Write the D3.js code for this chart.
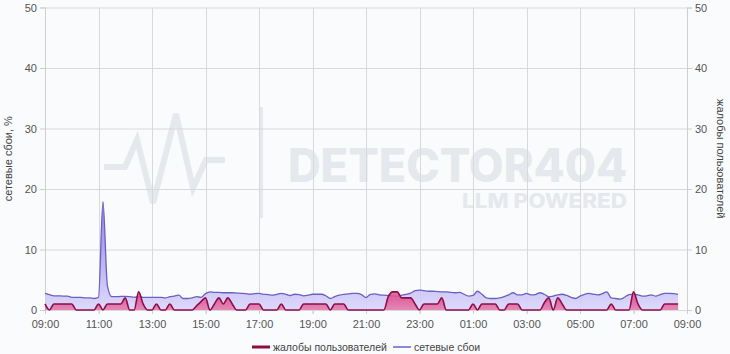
<!DOCTYPE html>
<html>
<head>
<meta charset="utf-8">
<script src="https://cdn.jsdelivr.net/npm/d3@7"></script>
<style>
  body { margin: 0; background: #fafbfc; }
  text { font-family: "Liberation Sans", Arial, sans-serif; }
</style>
</head>
<body>
<svg id="chart"></svg>
<script>
// 10-minute samples starting 09:00
const complaints = [
  1, 0, 1, 1, 1, 1, 1, 0, 0, 0, 0, 0, 1, 0, 1, 1, 1, 1, 2, 0,
  0, 3, 1, 0, 0, 1, 0, 0, 1, 0, 0, 0, 0, 0, 0.7, 1.4, 2, 0, 1, 2,
  1, 2, 1, 0, 0, 0, 1, 1, 1, 0, 0, 0, 0, 1, 0, 0, 0, 0, 1, 1,
  1, 1, 1, 1, 0, 1, 1, 1, 0, 0, 0, 0, 0, 0, 0, 0, 0, 2.2, 3, 3,
  2, 2, 2, 1, 0, 1, 1, 1, 1, 2, 0, 0, 0, 0, 0, 0, 1, 0, 1, 1,
  1, 1, 0, 0, 1, 1, 1, 0, 0, 0, 0, 0, 1.2, 2, 0, 2, 1, 0, 0, 0,
  0, 0, 0, 0, 0, 0, 0, 1, 0, 0, 0, 0, 3, 1, 0, 0, 0, 0, 0, 1,
  1, 1, 1
];
const networkFailures = [
  2.75, 2.55, 2.35, 2.35, 2.3, 2.3, 2.1, 2.1, 2.1, 2.0, 2.0, 1.9, 2.1, 17.9, 4, 2.2, 2.2, 2.25, 2.25, 2.2,
  2.1, 2.2, 2.1, 2.1, 2.1, 2.1, 2.1, 2.0, 2.2, 2.3, 2.45, 1.9, 1.9, 2.0, 2.2, 2.1, 2.7, 3.0, 2.9, 2.9,
  2.85, 2.85, 2.85, 2.8, 2.75, 2.7, 2.6, 2.7, 2.75, 2.6, 2.55, 2.45, 2.6, 2.75, 2.6, 2.4, 2.6, 2.55, 2.35, 2.45,
  2.6, 2.6, 2.6, 2.35, 1.9, 2.2, 2.45, 2.6, 2.65, 2.75, 2.75, 2.55, 2.05, 2.6, 2.65, 2.5, 2.45, 2.4, 2.35, 2.3,
  2.45, 2.6, 2.8, 3.2, 3.3, 3.2, 3.1, 3.1, 3.05, 3.0, 3.0, 2.9, 2.85, 2.9, 2.6, 2.3, 2.4, 3.1, 2.6, 2.0,
  1.9, 1.9, 2.0, 2.2, 2.5, 2.85, 2.5, 2.5, 2.75, 2.5, 2.55, 2.85, 2.6, 2.2, 2.3, 2.5, 2.6, 2.4, 2.1, 1.9,
  2.3, 2.6, 2.75, 2.6, 2.5, 2.7, 3.0, 2.0, 1.9, 1.8, 2.1, 2.55, 2.6, 2.5, 2.3, 2.35, 2.5, 2.3, 2.55, 2.75,
  2.75, 2.7, 2.6
];
const yTicks = [0, 10, 20, 30, 40, 50];
const xTickHours = [0, 2, 4, 6, 8, 10, 12, 14, 16, 18, 20, 22, 24];
const seriesNames = ["жалобы пользователей", "сетевые сбои"];
const leftTitle = "сетевые сбои, %";
const rightTitle = "жалобы пользователей";

const start = new Date(2024, 0, 1, 9, 0);
const times = complaints.map((d, i) => d3.timeMinute.offset(start, i * 10));
const xTicks = xTickHours.map((h) => d3.timeHour.offset(start, h));

let svg = d3.select("#chart"),
  W = 730, H = 354,
  margin = { top: 7.5, right: 43, bottom: 44, left: 45 },
  width = W - margin.left - margin.right,
  height = H - margin.top - margin.bottom;

svg.attr("width", W).attr("height", H);

let xScale = d3.scaleTime().domain([start, d3.timeHour.offset(start, 24)]).range([0, width]),
  yScale = d3.scaleLinear().domain([0, 50]).range([height, 0]);

let defs = svg.append("defs");
let gNet = defs.append("linearGradient").attr("id", "gNet")
  .attr("gradientUnits", "userSpaceOnUse").attr("x1", 0).attr("x2", 0)
  .attr("y1", margin.top + yScale(18)).attr("y2", margin.top + yScale(0));
gNet.append("stop").attr("offset", 0).attr("stop-color", "#8c7ce6");
gNet.append("stop").attr("offset", 1).attr("stop-color", "#e0dcfc");
let gCom = defs.append("linearGradient").attr("id", "gCom")
  .attr("gradientUnits", "userSpaceOnUse").attr("x1", 0).attr("x2", 0)
  .attr("y1", margin.top + yScale(3)).attr("y2", margin.top + yScale(0));
gCom.append("stop").attr("offset", 0).attr("stop-color", "#de5591").attr("stop-opacity", 0.85);
gCom.append("stop").attr("offset", 1).attr("stop-color", "#ec8fb8").attr("stop-opacity", 0.8);

// watermark
let wm = svg.append("g").attr("fill", "#e5e8ec").attr("stroke", "#e5e8ec");
wm.append("path")
  .attr("d", "M104,167 L125,167 L137,140 L153,203 L176,114 L193,188 L206,160 L225,160")
  .attr("fill", "none").attr("stroke-width", 6).attr("stroke-linejoin", "miter");
wm.append("rect").attr("x", 259).attr("y", 107).attr("width", 4).attr("height", 111).attr("stroke", "none");
wm.append("text").attr("x", 288).attr("y", 182).attr("stroke", "none")
  .style("font-family", "Inter, sans-serif").style("font-weight", 800).style("font-size", "46px")
  .attr("textLength", 339).attr("lengthAdjust", "spacingAndGlyphs").text("DETECTOR404");
wm.append("text").attr("x", 462).attr("y", 208).attr("stroke", "none")
  .style("font-family", "Inter, sans-serif").style("font-weight", 800).style("font-size", "20px")
  .attr("textLength", 165).attr("lengthAdjust", "spacingAndGlyphs").text("LLM POWERED");

let g = svg.append("g").attr("transform", "translate(" + margin.left + "," + margin.top + ")");

// grid
g.append("g").selectAll("line").data(yTicks).enter().append("line")
  .attr("x1", 0).attr("x2", width)
  .attr("y1", (d) => yScale(d) + 0.5).attr("y2", (d) => yScale(d) + 0.5)
  .attr("stroke", "#d9d9d9");
g.append("g").selectAll("line").data(xTicks).enter().append("line")
  .attr("x1", (d) => Math.round(xScale(d)) + 0.5).attr("x2", (d) => Math.round(xScale(d)) + 0.5)
  .attr("y1", 0).attr("y2", height + 4)
  .attr("stroke", "#d9d9d9");

// axes
let axisStyle = (sel) => {
  sel.select(".domain").attr("stroke", "#cfcfcf");
  sel.selectAll(".tick line").attr("stroke", "#cfcfcf");
  sel.selectAll(".tick text").attr("fill", "#555").style("font-size", "11px");
};
g.append("g")
  .attr("transform", "translate(0," + height + ")")
  .call(d3.axisBottom(xScale).tickValues(xTicks).tickFormat(d3.timeFormat("%H:%M")).tickSize(4).tickPadding(6))
  .call((s) => s.select(".domain").remove())
  .call(axisStyle);
g.append("g")
  .call(d3.axisLeft(yScale).tickValues(yTicks).tickSize(5).tickPadding(3))
  .call(axisStyle);
g.append("g")
  .attr("transform", "translate(" + width + ",0)")
  .call(d3.axisRight(yScale).tickValues(yTicks).tickSize(5).tickPadding(3))
  .call(axisStyle);

g.append("text")
  .attr("transform", "translate(" + (-33) + "," + height / 2 + ") rotate(-90)")
  .attr("text-anchor", "middle").attr("fill", "#444").style("font-size", "11px")
  .text(leftTitle);
g.append("text")
  .attr("transform", "translate(" + (width + 30) + "," + height / 2 + ") rotate(90)")
  .attr("text-anchor", "middle").attr("fill", "#444").style("font-size", "11px")
  .text(rightTitle);

// series
let curve = d3.curveMonotoneX;
let area = (vals) => d3.area().curve(curve)
  .x((d, i) => xScale(times[i])).y0(height).y1((d) => yScale(d))(vals);
let line = (vals) => d3.line().curve(curve)
  .x((d, i) => xScale(times[i])).y((d) => yScale(d))(vals);

g.append("path").attr("d", area(networkFailures)).attr("fill", "url(#gNet)").attr("fill-opacity", 0.9);
g.append("path").attr("d", line(networkFailures)).attr("fill", "none").attr("stroke", "#6c5fc4").attr("stroke-width", 1.3);
g.append("path").attr("d", area(complaints)).attr("fill", "url(#gCom)");
g.append("path").attr("d", line(complaints)).attr("fill", "none").attr("stroke", "#8e0c48").attr("stroke-width", 1.6);

// legend
let legend = svg.append("g").attr("transform", "translate(0,347)");
let items = [
  { name: seriesNames[0], color: "#8e0c48", w: 3, x: 252 },
  { name: seriesNames[1], color: "#6c5fc4", w: 1.5, x: 393 }
];
items.forEach((it) => {
  legend.append("line").attr("x1", it.x).attr("x2", it.x + 18).attr("y1", 0).attr("y2", 0)
    .attr("stroke", it.color).attr("stroke-width", it.w);
  legend.append("text").attr("x", it.x + 21).attr("y", 4)
    .attr("fill", "#444").style("font-size", "10.5px").text(it.name);
});
</script>
</body>
</html>
